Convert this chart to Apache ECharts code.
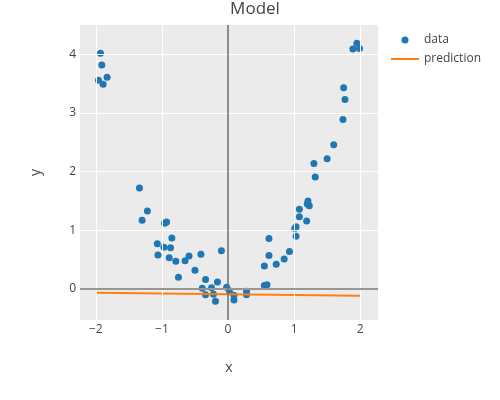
<!DOCTYPE html>
<html>
<head>
<meta charset="utf-8">
<script src="https://cdn.jsdelivr.net/npm/echarts@6/dist/echarts.min.js"></script>
<style>
  html, body { margin: 0; padding: 0; background: #fff; }
  #chart { width: 500px; height: 400px; }
</style>
</head>
<body>
<div id="chart"></div>
<script>
// observed points
const dataX = [
  -1.93, -1.91, -1.83, -1.96, -1.89, -1.34, -1.22, -1.30, -0.96, -0.93,
  -0.85, -1.07, -0.97, -0.87, -1.06, -0.89, -0.79, -0.65, -0.59, -0.41,
  -0.10, -0.50, -0.75, -0.34, -0.16, -0.39, -0.25, -0.34, -0.22, -0.19,
  -0.02, 0.02, 0.09, 0.09, 0.28, 0.28, 0.55, 0.59, 0.55, 0.62,
  0.62, 0.73, 0.85, 0.93, 1.03, 1.01, 1.03, 1.08, 1.08, 1.19,
  1.20, 1.21, 1.23, 1.32, 1.30, 1.50, 1.60, 1.95, 1.89, 1.99,
  1.75, 1.77, 1.74
]
const dataY = [
  4.02, 3.82, 3.61, 3.56, 3.49, 1.72, 1.33, 1.17, 1.12, 1.14,
  0.87, 0.77, 0.71, 0.70, 0.58, 0.53, 0.47, 0.48, 0.56, 0.59,
  0.65, 0.32, 0.20, 0.16, 0.12, 0.01, 0.02, -0.10, -0.09, -0.21,
  0.03, -0.03, -0.11, -0.19, -0.04, -0.10, 0.06, 0.07, 0.39, 0.57,
  0.86, 0.42, 0.51, 0.64, 0.90, 1.03, 1.06, 1.23, 1.36, 1.16,
  1.45, 1.50, 1.42, 1.91, 2.14, 2.22, 2.46, 4.19, 4.09, 4.10,
  3.43, 3.23, 2.89
]
// fitted line
const predX = [-2, 2]
const predY = [-0.065, -0.115]

const xTicks = [-2, -1, 0, 1, 2]
const yTicks = [0, 1, 2, 3, 4]

const textColor = '#444'
const fontFamily = '"Open Sans", "Liberation Sans", sans-serif'

const chart = echarts.init(document.getElementById('chart'))

const gridLines = [
  ...xTicks.filter((v) => v !== 0).map((v) => ({ xAxis: v })),
  ...yTicks.filter((v) => v !== 0).map((v) => ({ yAxis: v })),
]

chart.setOption({
  animation: false,
  textStyle: { fontFamily },
  title: {
    text: 'Model',
    left: 250,
    textAlign: 'center',
    top: -4,
    textStyle: { color: textColor, fontSize: 17, fontWeight: 'normal', fontFamily },
  },
  legend: {
    orient: 'vertical',
    left: 385,
    top: 29,
    itemWidth: 28,
    itemHeight: 7,
    itemGap: 7,
    textStyle: { color: textColor, fontSize: 12, fontFamily },
    data: [
      { name: 'data', icon: 'circle' },
      { name: 'prediction', itemStyle: { opacity: 0 }, lineStyle: { width: 2 } },
    ],
  },
  grid: {
    left: 80,
    right: 122,
    top: 25,
    bottom: 80,
    show: true,
    backgroundColor: '#ebebeb',
    borderWidth: 0,
  },
  xAxis: {
    type: 'value',
    min: -2.24,
    max: 2.27,
    name: 'x',
    nameLocation: 'middle',
    nameGap: 41,
    nameTextStyle: { color: textColor, fontSize: 14, fontFamily },
    axisLine: { show: false },
    axisTick: { show: false },
    splitLine: { show: false },
    axisLabel: {
      customValues: xTicks,
      color: textColor,
      fontSize: 12,
      margin: 4,
      formatter: (v) => (v < 0 ? '\u2212' + Math.abs(v) : String(v)),
    },
  },
  yAxis: {
    type: 'value',
    min: -0.53,
    max: 4.5,
    name: 'y',
    nameLocation: 'middle',
    nameGap: 37,
    nameTextStyle: { color: textColor, fontSize: 14, fontFamily },
    axisLine: { show: false },
    axisTick: { show: false },
    splitLine: { show: false },
    axisLabel: {
      customValues: yTicks,
      color: textColor,
      fontSize: 12,
      margin: 4,
    },
  },
  series: [
    {
      name: 'grid',
      type: 'line',
      data: [],
      z: 1,
      silent: true,
      markLine: {
        silent: true,
        symbol: 'none',
        label: { show: false },
        lineStyle: { color: '#ffffff', width: 1, type: 'solid' },
        data: [
          ...gridLines,
          { yAxis: 0, lineStyle: { color: '#969696', width: 2 } },
          { xAxis: 0, lineStyle: { color: '#6e6e6e', width: 1.5 } },
        ],
      },
    },
    {
      name: 'data',
      type: 'scatter',
      symbol: 'circle',
      symbolSize: 7,
      itemStyle: { color: '#1f77b4', opacity: 1 },
      data: dataX.map((x, i) => [x, dataY[i]]),
      z: 3,
    },
    {
      name: 'prediction',
      type: 'line',
      symbol: 'none',
      lineStyle: { color: '#ff7f0e', width: 2 },
      itemStyle: { color: '#ff7f0e' },
      data: predX.map((x, i) => [x, predY[i]]),
      z: 4,
    },
  ],
})
</script>
</body>
</html>
